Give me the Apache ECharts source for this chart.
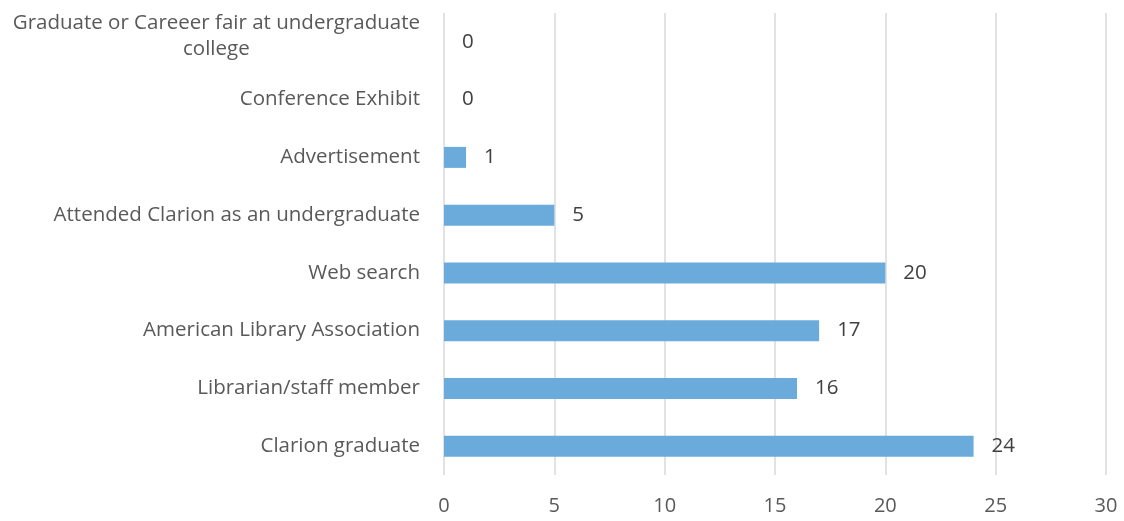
<!DOCTYPE html>
<html>
<head>
<meta charset="utf-8">
<script src="https://cdn.jsdelivr.net/npm/echarts@6/dist/echarts.min.js"></script>
<style>
  html, body { margin: 0; padding: 0; background: #fff; }
  #chart { width: 1124px; height: 521px; }
</style>
</head>
<body>
<div id="chart"></div>
<script>
// categories, bottom to top as drawn
var categories = [
    'Clarion graduate',
    'Librarian/staff member',
    'American Library Association',
    'Web search',
    'Attended Clarion as an undergraduate',
    'Advertisement',
    'Conference Exhibit',
    'Graduate or Careeer fair at undergraduate college'
];
var counts = [24, 16, 17, 20, 5, 1, 0, 0];
var xTicks = [0, 5, 10, 15, 20, 25, 30];

var myChart = echarts.init(document.getElementById('chart'));
var fontFamily = '"Open Sans", sans-serif';

// 两行的标签稍微往上挪
var categoryData = categories.map(function (name) {
    if (name.indexOf('undergraduate college') >= 0) {
        return { value: name, textStyle: { padding: [0, 0, 12, 0] } };
    }
    return name;
});

var option = {
    animation: false,
    grid: {
        left: 444,
        right: 18,
        top: 13,
        bottom: 46
    },
    xAxis: {
        type: 'value',
        min: xTicks[0],
        max: xTicks[xTicks.length - 1],
        interval: 5,
        axisLine: { show: false },
        axisTick: { show: false },
        axisLabel: {
            margin: 21,
            color: '#595959',
            fontSize: 20,
            fontFamily: fontFamily
        },
        splitLine: {
            lineStyle: { color: '#d9d9d9', width: 1.5 }
        }
    },
    yAxis: {
        type: 'category',
        data: categoryData,
        axisLine: { show: false },
        axisTick: { show: false },
        axisLabel: {
            margin: 24,
            color: '#595959',
            fontSize: 20.5,
            fontFamily: fontFamily,
            formatter: function (val) {
                if (val.indexOf('undergraduate college') >= 0) {
                    return '{c|Graduate or Careeer fair at undergraduate}\n{c|college}';
                }
                return val;
            },
            rich: {
                c: {
                    align: 'center',
                    color: '#595959',
                    fontSize: 20.5,
                    fontFamily: fontFamily,
                    lineHeight: 26
                }
            }
        }
    },
    series: [{
        type: 'bar',
        data: counts,
        barWidth: 21,
        itemStyle: { color: '#6aabdc' },
        label: {
            show: true,
            position: 'right',
            distance: 18,
            color: '#404040',
            fontSize: 20.5,
            fontFamily: fontFamily
        }
    }]
};
myChart.setOption(option);
</script>
</body>
</html>
